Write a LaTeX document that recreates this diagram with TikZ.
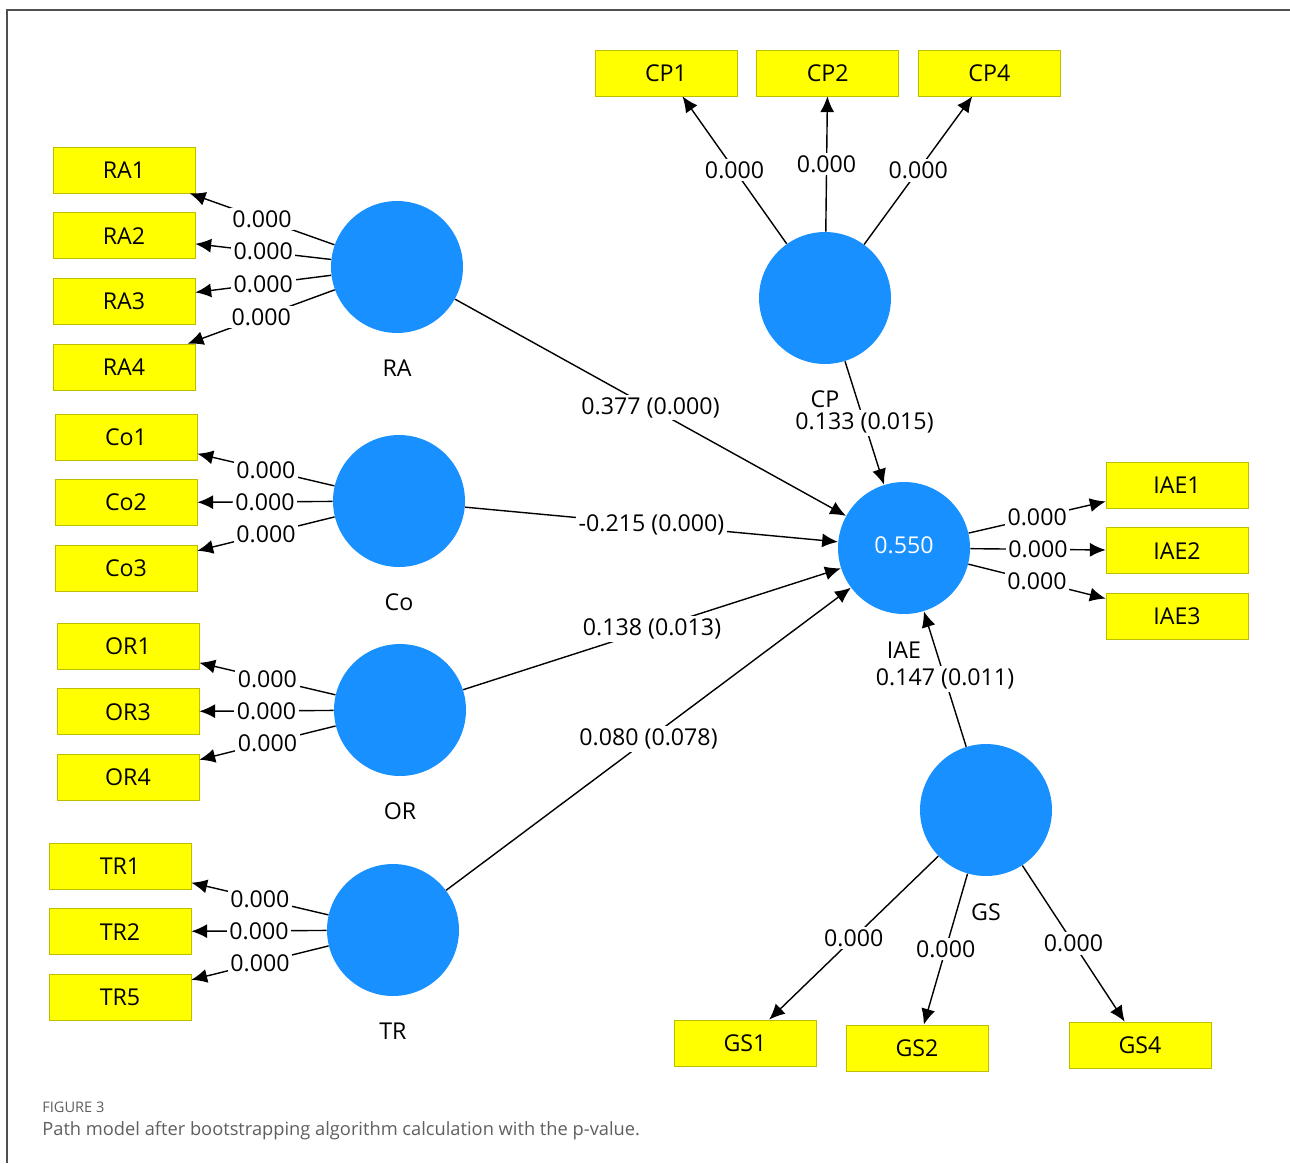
\documentclass[tikz,border=0pt]{standalone}
\usepackage{fontspec}
\setmainfont{Open Sans}
\usetikzlibrary{positioning,arrows.meta}
\definecolor{indyellow}{RGB}{255,255,0}
\definecolor{indborder}{RGB}{190,190,0}
\definecolor{lvblue}{RGB}{24,144,255}
\definecolor{framegray}{RGB}{80,80,80}
\definecolor{capgray}{RGB}{95,95,95}
\tikzset{indbox/.style={draw=indborder,fill=indyellow,minimum width=2.84cm,minimum height=0.92cm,inner sep=0pt,font=\fontsize{13.2}{15}\selectfont},
  lvcirc/.style={circle,fill=lvblue,minimum size=2.64cm,inner sep=0pt,text=white,font=\fontsize{13.2}{15}\selectfont},
  lvname/.style={inner sep=0pt,font=\fontsize{13.2}{15}\selectfont},
  coef/.style={fill=white,inner sep=1.5pt,font=\fontsize{13.2}{15}\selectfont},
  pathline/.style={-{Latex[length=9pt,width=8pt]},line width=0.8pt},
  captext/.style={anchor=west,inner sep=0pt,text=capgray}
}

\begin{document}
\begin{tikzpicture}[x=0.02cm,y=-0.02cm]
  \useasboundingbox (0,0) rectangle (1290,1163);
  \draw[framegray,line width=1.1pt] (1290,10) -| (7,1163);

  % Latent variables
    \node[lvcirc] (RA) at (397,267) {};
    \node[lvcirc] (Co) at (399,501) {};
    \node[lvcirc] (OR) at (400,710) {};
    \node[lvcirc] (TR) at (393,930) {};
    \node[lvcirc] (CP) at (825,298) {};
    \node[lvcirc] (IAE) at (904,548) {\raisebox{3pt}{0.550}};
    \node[lvcirc] (GS) at (986,810) {};

    \node[lvname, below = 0.52cm of RA] (RAl) {RA};
    \node[lvname, below = 0.52cm of Co] (Col) {Co};
    \node[lvname, below = 0.52cm of OR] (ORl) {OR};
    \node[lvname, below = 0.52cm of TR] (TRl) {TR};
    \node[lvname, below = 0.52cm of CP] (CPl) {CP};
    \node[lvname, below = 0.54cm of IAE] (IAEl) {IAE};
    \node[lvname, below = 0.54cm of GS] (GSl) {GS};

  % Indicators
    \node[indbox] (RA1) at (124,170) {RA1};
    \node[indbox, below = 0.38cm of RA1] (RA2) {RA2};
    \node[indbox, below = 0.38cm of RA2] (RA3) {RA3};
    \node[indbox, below = 0.38cm of RA3] (RA4) {RA4};

    \node[indbox] (Co1) at (126,437) {Co1};
    \node[indbox, below = 0.38cm of Co1] (Co2) {Co2};
    \node[indbox, below = 0.38cm of Co2] (Co3) {Co3};

    \node[indbox] (OR1) at (128,646) {OR1};
    \node[indbox, below = 0.38cm of OR1] (OR3) {OR3};
    \node[indbox, below = 0.38cm of OR3] (OR4) {OR4};

    \node[indbox] (TR1) at (120,866) {TR1};
    \node[indbox, below = 0.38cm of TR1] (TR2) {TR2};
    \node[indbox, below = 0.38cm of TR2] (TR5) {TR5};

    \node[indbox] (CP1) at (666,73) {CP1};
    \node[indbox, right = 0.38cm of CP1] (CP2) {CP2};
    \node[indbox, right = 0.38cm of CP2] (CP4) {CP4};

    \node[indbox] (IAE1) at (1177,485) {IAE1};
    \node[indbox, below = 0.38cm of IAE1] (IAE2) {IAE2};
    \node[indbox, below = 0.38cm of IAE2] (IAE3) {IAE3};

    \node[indbox] (GS1) at (745,1043) {GS1};
    \node[indbox] (GS2) at (917,1048) {GS2};
    \node[indbox] (GS4) at (1140,1045) {GS4};

  % Outer loadings
    \foreach \lv/\ind in {RA/RA1,RA/RA2,RA/RA3,RA/RA4,Co/Co1,Co/Co2,Co/Co3,OR/OR1,OR/OR3,OR/OR4,TR/TR1,TR/TR2,TR/TR5,CP/CP1,CP/CP2,CP/CP4,IAE/IAE1,IAE/IAE2,IAE/IAE3,GS/GS1,GS/GS2,GS/GS4}
      \draw[pathline] (\lv) -- node[coef] {0.000} (\ind);

  % Structural paths
    \draw[pathline] (RA) -- node[coef] {0.377 (0.000)} (IAE);
    \draw[pathline] (Co) -- node[coef] {-0.215 (0.000)} (IAE);
    \draw[pathline] (OR) -- node[coef] {0.138 (0.013)} (IAE);
    \draw[pathline] (TR) -- node[coef] {0.080 (0.078)} (IAE);
    \draw[pathline] (CP) -- node[coef] {0.133 (0.015)} (IAE);
    \draw[pathline] (GS) -- node[coef] {0.147 (0.011)} (IAE);

  % Caption
    \node[captext,font=\fontsize{8.3}{10}\selectfont] (fignum) at (42,1107) {FIGURE 3};
    \node[captext,font=\fontsize{10.4}{12}\selectfont] (figcap) at (42,1131) {Path model after bootstrapping algorithm calculation with the p-value.};

\end{tikzpicture}
\end{document}
